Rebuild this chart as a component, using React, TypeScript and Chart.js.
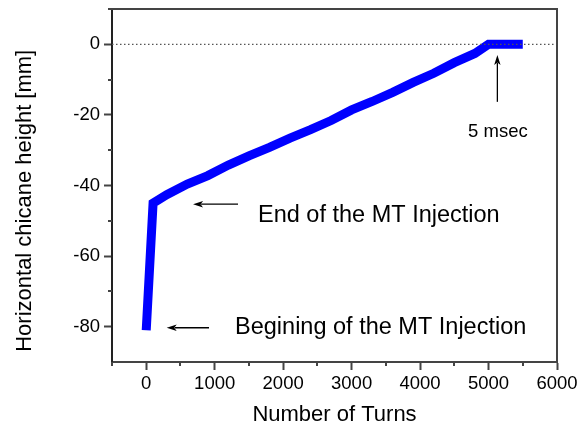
import React, { useEffect, useRef } from "react";
import { Chart, registerables } from "chart.js";

Chart.register(...registerables);

// ---- data ----
const turns = [0, 100, 300, 600, 900, 1200, 1500, 1800, 2100, 2400, 2700, 3000, 3300, 3600, 3900, 4200, 4500, 4800, 5000, 5200, 5500];
const chicaneHeight = [-81, -45, -42.6, -39.6, -37.2, -34.2, -31.6, -29.2, -26.6, -24.2, -21.6, -18.6, -16.2, -13.6, -10.8, -8.2, -5.2, -2.6, 0, 0, 0];

const xMajorTicks = [0, 1000, 2000, 3000, 4000, 5000, 6000];
const xMinorTicks = [-500, 500, 1500, 2500, 3500, 4500, 5500];
const yMajorTicks = [-80, -60, -40, -20, 0];
const yMinorTicks = [-70, -50, -30, -10, 10];

const zeroLineX = [-500, 6000];
const zeroLineY = [0, 0];

const noteTexts = ["End of the MT Injection", "Begining of the MT Injection", "5 msec"];

const FONT = "'Liberation Sans', Arial, Helvetica, sans-serif";

// annotation anchors in data coordinates
const annotations = [
  { text: noteTexts[0], x: 1633, y: -50.3, size: 23.5 },
  { text: noteTexts[1], x: 1297, y: -82.1, size: 23.5 },
  { text: noteTexts[2], x: 4701, y: -26.2, size: 18.5 },
];
const arrows = [
  { fromX: 1341, fromY: -45.3, toX: 684, toY: -45.3 },
  { fromX: 917, fromY: -80.3, toX: 299, toY: -80.3 },
  { fromX: 5129, fromY: -16.3, toX: 5129, toY: -3.0 },
];

const extrasPlugin = {
  id: "extras",
  afterDraw(chart: any) {
    const { ctx, chartArea } = chart;
    const xs = chart.scales.x;
    const ys = chart.scales.y;
    ctx.save();
    // frame top & right
    ctx.strokeStyle = "#444";
    ctx.lineWidth = 2;
    ctx.beginPath();
    ctx.moveTo(chartArea.left, chartArea.top);
    ctx.lineTo(chartArea.right, chartArea.top);
    ctx.lineTo(chartArea.right, chartArea.bottom);
    ctx.stroke();
    // minor ticks
    ctx.lineWidth = 2;
    ctx.beginPath();
    for (const v of xMinorTicks) {
      const px = Math.round(xs.getPixelForValue(v));
      ctx.moveTo(px, chartArea.bottom);
      ctx.lineTo(px, chartArea.bottom + 4);
    }
    for (const v of yMinorTicks) {
      const py = Math.round(ys.getPixelForValue(v));
      ctx.moveTo(chartArea.left, py);
      ctx.lineTo(chartArea.left - 4, py);
    }
    ctx.stroke();
    // arrows
    ctx.strokeStyle = "#000";
    ctx.fillStyle = "#000";
    ctx.lineWidth = 1.3;
    for (const a of arrows) {
      const x1 = xs.getPixelForValue(a.fromX);
      const y1 = ys.getPixelForValue(a.fromY);
      const x2 = xs.getPixelForValue(a.toX);
      const y2 = ys.getPixelForValue(a.toY);
      const ang = Math.atan2(y2 - y1, x2 - x1);
      const hl = 10;
      const hw = 3.2;
      ctx.beginPath();
      ctx.moveTo(x1, y1);
      ctx.lineTo(x2 - Math.cos(ang) * hl * 0.8, y2 - Math.sin(ang) * hl * 0.8);
      ctx.stroke();
      ctx.beginPath();
      ctx.moveTo(x2, y2);
      ctx.lineTo(x2 - Math.cos(ang) * hl - Math.sin(ang) * hw, y2 - Math.sin(ang) * hl + Math.cos(ang) * hw);
      ctx.lineTo(x2 - Math.cos(ang) * hl * 0.75, y2 - Math.sin(ang) * hl * 0.75);
      ctx.lineTo(x2 - Math.cos(ang) * hl + Math.sin(ang) * hw, y2 - Math.sin(ang) * hl - Math.cos(ang) * hw);
      ctx.closePath();
      ctx.fill();
    }
    // texts
    ctx.textAlign = "left";
    ctx.textBaseline = "alphabetic";
    for (const n of annotations) {
      ctx.font = `${n.size}px ${FONT}`;
      ctx.fillText(n.text, xs.getPixelForValue(n.x), ys.getPixelForValue(n.y));
    }
    ctx.restore();
  },
};

export default function App() {
  const ref = useRef<HTMLCanvasElement | null>(null);
  useEffect(() => {
    if (!ref.current) return;
    const chart = new Chart(ref.current, {
      type: "line",
      data: {
        datasets: [
          {
            label: "Horizontal chicane height",
            data: turns.map((t, i) => ({ x: t, y: chicaneHeight[i] })),
            borderColor: "#0000ff",
            backgroundColor: "#0000ff",
            borderWidth: 9,
            pointRadius: 0,
            tension: 0,
            borderJoinStyle: "miter",
            borderCapStyle: "butt",
            order: 2,
          },
          {
            label: "zero",
            data: zeroLineX.map((t, i) => ({ x: t, y: zeroLineY[i] })),
            borderColor: "#555",
            borderWidth: 1.2,
            borderDash: [1.5, 2.5],
            pointRadius: 0,
            order: 1,
          },
        ],
      },
      options: {
        responsive: false,
        animation: false,
        layout: { padding: { top: 9, right: 22, left: 0, bottom: 0 } },
        plugins: { legend: { display: false }, tooltip: { enabled: false } },
        scales: {
          x: {
            type: "linear",
            min: -500,
            max: 6000,
            afterBuildTicks: (s: any) => {
              s.ticks = xMajorTicks.map((v) => ({ value: v }));
            },
            afterFit: (s: any) => {
              s.height = 63;
              s.paddingLeft = 0;
              s.paddingRight = 0;
            },
            grid: { drawOnChartArea: false, drawTicks: true, tickLength: 8, tickWidth: 2, tickColor: "#444" },
            border: { display: true, color: "#444", width: 2 },
            ticks: {
              font: { family: FONT, size: 18.5 },
              color: "#000",
              padding: 3,
              maxRotation: 0,
              autoSkip: false,
              callback: (v: any) => String(v),
            },
            title: {
              display: true,
              text: "Number of Turns",
              font: { family: FONT, size: 22, lineHeight: 0.9 },
              color: "#000",
              padding: 0,
            },
          },
          y: {
            type: "linear",
            min: -90,
            max: 10,
            afterBuildTicks: (s: any) => {
              s.ticks = yMajorTicks.map((v) => ({ value: v }));
            },
            afterFit: (s: any) => {
              s.width = 112;
              s.paddingTop = 0;
              s.paddingBottom = 0;
            },
            grid: { drawOnChartArea: false, drawTicks: true, tickLength: 8, tickWidth: 2, tickColor: "#444" },
            border: { display: true, color: "#222", width: 2 },
            ticks: {
              font: { family: FONT, size: 18.5 },
              color: "#000",
              padding: 4,
              autoSkip: false,
              callback: (v: any) => String(v),
            },
            title: {
              display: true,
              text: "Horizontal chicane height [mm]     ",
              font: { family: FONT, size: 22, lineHeight: 1.2 },
              color: "#000",
              padding: { top: 12, bottom: 0 },
            },
          },
        },
      },
      plugins: [extrasPlugin],
    } as any);
    return () => chart.destroy();
  }, []);
  return (
    <div style={{ position: "fixed", left: 0, top: 0, width: 579, height: 425, background: "#fff" }}>
      <canvas ref={ref} width={579} height={425} style={{ width: 579, height: 425, display: "block" }} />
    </div>
  );
}
